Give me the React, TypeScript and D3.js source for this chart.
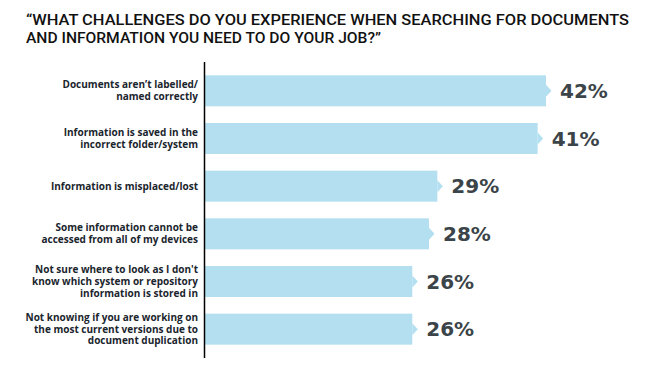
import React from "react";
import * as d3 from "d3";

const titleLines = [
  "\u201CWHAT CHALLENGES DO YOU EXPERIENCE WHEN SEARCHING FOR DOCUMENTS",
  "AND INFORMATION YOU NEED TO DO YOUR JOB?\u201D",
];
const titleWidths = [603, 355];

const categories = [
  ["Documents aren\u2019t labelled/", "named correctly"],
  ["Information is saved in the", "incorrect folder/system"],
  ["Information is misplaced/lost"],
  ["Some information cannot be", "accessed from all of my devices"],
  ["Not sure where to look as I don't", "know which system or repository", "information is stored in"],
  ["Not knowing if you are working on", "the most current versions due to", "document duplication"],
];

const values = [42, 41, 29, 28, 26, 26];
const valueLabels = ["42%", "41%", "29%", "28%", "26%", "26%"];

const W = 645;
const H = 377;

export default function App() {
  const axisX = 204.5;
  const x = d3.scaleLinear().domain([0, 42]).range([195, 546]);
  const idx = categories.map((_, i) => String(i));
  const y = d3.scaleBand().domain(idx).range([67, 353]).paddingInner(0.35).paddingOuter(0.175);
  const bh = y.bandwidth();
  const lineH = 11.8;

  return (
    <svg width={W} height={H} style={{ position: "absolute", left: 0, top: 0, background: "#fff" }}>
      <text fontFamily="Roboto, sans-serif" fontWeight={500} fontSize={15} fill="#111">
        {titleLines.map((t, i) => (
          <tspan key={i} x={26} y={24.5 + i * 18.5} textLength={titleWidths[i]} lengthAdjust="spacingAndGlyphs">
            {t}
          </tspan>
        ))}
      </text>
      {values.map((v, i) => {
        const y0 = y(String(i))!;
        const xe = x(v);
        const cy = y0 + bh / 2;
        const n = categories[i].length;
        return (
          <g key={i}>
            <rect x={axisX} y={y0} width={xe - axisX} height={bh} fill="#b3dff0" />
            <path d={`M${xe},${cy - 6}L${xe + 5.5},${cy}L${xe},${cy + 6}Z`} fill="#b3dff0" />
            <text
              x={xe + 14}
              y={cy}
              dy="0.36em"
              fontFamily="'DejaVu Sans', sans-serif"
              fontWeight={700}
              fontSize={20}
              fill="#3b4448"
            >
              {valueLabels[i]}
            </text>
            <text fontFamily="'Open Sans', sans-serif" fontWeight={700} fontSize={10} fill="#1a252d" textAnchor="end">
              {categories[i].map((l, j) => (
                <tspan key={j} x={198} y={cy + (j - (n - 1) / 2) * lineH + 3.5}>
                  {l}
                </tspan>
              ))}
            </text>
          </g>
        );
      })}
      <line x1={axisX} x2={axisX} y1={62} y2={358} stroke="#000" strokeWidth={1.5} />
    </svg>
  );
}
